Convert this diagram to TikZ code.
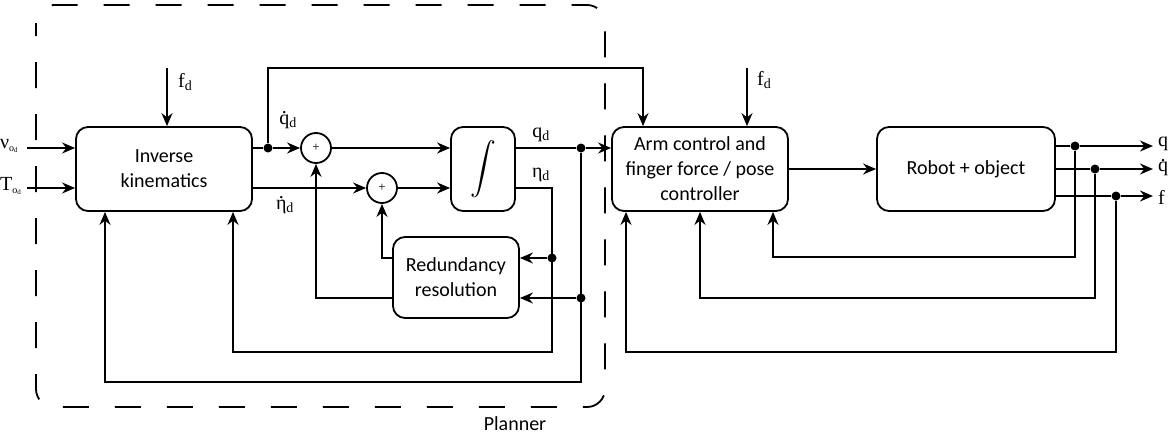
\documentclass[tikz,border=0pt]{standalone}
\usepackage{fontspec}
\setmainfont{Liberation Serif}
\newfontfamily\boxfont{Carlito}
\usetikzlibrary{arrows.meta,calc}

% letter with a dot placed above it (time derivative)
\newcommand\dotover[1]{\ooalign{#1\cr\hidewidth\raisebox{0.52em}{.}\hidewidth\cr}}

\tikzset{
  blk/.style={draw, line width=1.8pt, rounded corners=12pt, align=center,
    font=\boxfont\fontsize{20}{25}\selectfont, inner sep=0pt},
  sumnode/.style={draw, circle, line width=1.8pt, minimum size=30pt, inner sep=0pt,
    font=\fontsize{13}{13}\selectfont},
  wire/.style={line width=1.8pt},
  arr/.style={wire, -{Stealth[length=13pt,width=11pt]}},
  jdot/.style={circle, fill, inner sep=0pt, minimum size=9pt},
  sig/.style={font=\fontsize{20}{20}\selectfont, inner sep=1pt},
  group/.style={line width=1.8pt, dash pattern=on 26pt off 26pt, rounded corners=18pt}
}

\begin{document}
\begin{tikzpicture}[x=1pt, y=-1pt]
\useasboundingbox (0,0) rectangle (1175,439);

% planner boundary
\draw[group, dash phase=13pt] (36,5) rectangle (605,407);
\node[font=\boxfont\fontsize{20}{20}\selectfont] (planner) at (515,424) {Planner};

% blocks
\node[blk, minimum width=176pt, minimum height=84pt] (ik) at (164,169) {Inverse\\kinematics};
\node[blk, minimum width=64pt, minimum height=84pt] (integ) at (483,169)
  {\resizebox{!}{42pt}{$\displaystyle\int$}};
\node[blk, minimum width=126pt, minimum height=81pt] (red) at (456,277.5) {Redundancy\\resolution};
\node[blk, minimum width=176pt, minimum height=84pt] (arm) at (700,169)
  {Arm control and\\finger force / pose\\controller};
\node[blk, minimum width=178pt, minimum height=84pt] (robot) at (966,169) {Robot + object};
\node[sumnode] (s1) at (316,148) {+};
\node[sumnode] (s2) at (382,188) {+};

% junctions
\node[jdot] (j1) at (268,148) {};
\node[jdot] (j2) at (581,148) {};
\node[jdot] (j3) at (552,258) {};
\node[jdot] (j4) at (581,298) {};
\node[jdot] (jq) at (1075,146) {};
\node[jdot] (jqd) at (1095,169) {};
\node[jdot] (jf) at (1116,196) {};

% free ends
\coordinate (nuin) at (27,148);
\coordinate (tin) at (27,188);
\coordinate (fd1) at (167,68);
\coordinate (fd2) at (747,68);
\coordinate (qout) at (1153,146);
\coordinate (qdout) at (1153,169);
\coordinate (fout) at (1153,196);

% signal labels
\node[sig, anchor=west, inner sep=0pt] (nu) at (0,146) {ν\textsubscript{\fontsize{10}{10}\selectfont o\textsubscript{d}}};
\node[sig, anchor=west, inner sep=0pt] (T) at (0,186) {T\textsubscript{\fontsize{10}{10}\selectfont o\textsubscript{d}}};
\node[sig, anchor=west] at (177,82) {f\textsubscript{d}};
\node[sig, anchor=west] at (756,80) {f\textsubscript{d}};
\node[sig] at (288,121) {\dotover{q}\textsubscript{d}};
\node[sig] at (285,206) {\dotover{η}\textsubscript{d}};
\node[sig] at (541,135) {q\textsubscript{d}};
\node[sig] at (541,175) {η\textsubscript{d}};
\node[sig, anchor=west] at (1157,144) {q};
\node[sig, anchor=west] at (1157,167) {\dotover{q}};
\node[sig, anchor=west] at (1157,197) {f};

% inputs to inverse kinematics
\draw[arr] (nuin) -- (ik.west |- nuin);
\draw[arr] (tin) -- (ik.west |- tin);
\draw[arr] (fd1) -- (ik.north -| fd1);

% desired joint velocity path
\draw[wire] (ik.east |- j1) -- (j1);
\draw[arr] (j1) -- (s1.west);
\draw[arr] (j1) |- (643,68) -- (arm.north -| 643,0);
\draw[arr] (ik.east |- s2) -- (s2.west);
\draw[arr] (s1.east) -- (integ.west |- s1);
\draw[arr] (s2.east) -- (integ.west |- s2);

% integrator outputs
\draw[wire] (integ.east |- j2) -- (j2);
\draw[arr] (j2) -- (arm.west |- j2);
\draw[arr] (integ.east |- s2) -| (552,352) -| (ik.south -| 233,0);
\draw[arr] (j2) |- (105,382) -- (ik.south -| 105,0);
\draw[arr] (j3) -- (red.east |- j3);
\draw[arr] (j4) -- (red.east |- j4);

% redundancy resolution outputs
\draw[arr] (red.west |- j3) -| (s2.south);
\draw[arr] (red.west |- j4) -| (s1.south);

% controller and plant
\draw[arr] (arm.east) -- (robot.west |- arm.east);
\draw[arr] (fd2) -- (arm.north -| fd2);
\draw[wire] (robot.east |- jq) -- (jq);
\draw[arr] (jq) -- (qout);
\draw[wire] (robot.east |- jqd) -- (jqd);
\draw[arr] (jqd) -- (qdout);
\draw[wire] (robot.east |- jf) -- (jf);
\draw[arr] (jf) -- (fout);

% feedback to the controller
\draw[arr] (jq) |- (773,257) -- (arm.south -| 773,0);
\draw[arr] (jqd) |- (700,298) -- (arm.south -| 700,0);
\draw[arr] (jf) |- (626,352) -- (arm.south -| 626,0);
\end{tikzpicture}
\end{document}
